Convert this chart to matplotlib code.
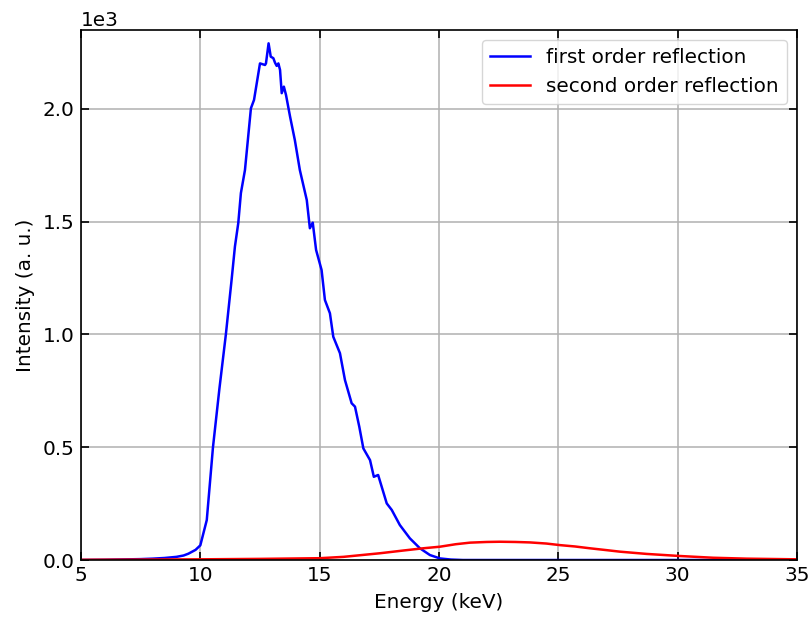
import matplotlib
matplotlib.use("Agg")
import matplotlib.pyplot as plt

# ── Data ─────────────────────────────────────────────────────
first_energy = [5.0, 6.0, 7.0, 7.5, 8.0, 8.5, 9.0, 9.3, 9.5, 9.8, 10.0, 10.27,
                10.53, 10.8, 11.07, 11.31, 11.45, 11.59, 11.70, 11.87, 12.12,
                12.25, 12.50, 12.71, 12.75, 12.86, 12.95, 13.06, 13.13, 13.20,
                13.27, 13.34, 13.41, 13.50, 13.59, 13.76, 13.96, 14.17, 14.46,
                14.59, 14.71, 14.85, 15.08, 15.22, 15.43, 15.57, 15.85, 16.06,
                16.34, 16.48, 16.66, 16.83, 17.11, 17.27, 17.45, 17.81, 18.02,
                18.36, 18.78, 19.20, 19.62, 20.04, 20.5, 21.0, 22.0, 25.0,
                30.0, 35.0]
first_intensity = [0, 1, 3, 4, 6, 9, 14, 20, 28, 45, 65, 177,
                   500, 760, 1000, 1242, 1390, 1494, 1627, 1729, 2003,
                   2040, 2202, 2195, 2202, 2291, 2232, 2225, 2205, 2191,
                   2202, 2173, 2070, 2099, 2062, 1966, 1862, 1729, 1596,
                   1471, 1496, 1375, 1286, 1153, 1094, 990, 917, 798,
                   695, 680, 591, 495, 443, 369, 377, 251, 222,
                   155, 96, 52, 22, 7, 2, 0, 0, 0,
                   0, 0]

second_energy = [5.0, 7.5, 10.0, 12.5, 15.0, 16.0, 17.53, 18.5, 19.34, 20.04,
                 20.7, 21.30, 22.0, 22.55, 23.2, 23.81, 24.5, 25.07, 25.7,
                 26.32, 27.0, 27.58, 28.70, 30.05, 31.49, 32.89, 35.0]
second_intensity = [1, 2, 3, 5, 8, 14, 30, 42, 52, 59,
                    70, 77, 80, 81, 80, 78, 73, 66, 60,
                    52, 44, 37, 27, 18, 10, 6, 3]

# ── Plot ─────────────────────────────────────────────────────
plt.rcParams["font.size"] = 14.4

fig = plt.figure(figsize=(8.09, 6.19), dpi=100)
ax = fig.add_axes([0.1001, 0.0953, 0.8851, 0.8562])

ax.plot(first_energy, first_intensity, color="blue", lw=1.8,
        label="first order reflection")
ax.plot(second_energy, second_intensity, color="red", lw=1.8,
        label="second order reflection")

ax.set_xlim(5, 35)
ax.set_ylim(0, 2350)
ax.set_xlabel("Energy (keV)", labelpad=5.5)
ax.set_ylabel("Intensity (a. u.)", labelpad=5.5)
ax.ticklabel_format(style="sci", axis="y", scilimits=(3, 3))
ax.tick_params(direction="in", top=True, right=True, length=6, width=1.2,
               pad=4.5)
for s in ax.spines.values():
    s.set_linewidth(1.2)
ax.grid(True, color="#b0b0b0", lw=1.1)
ax.legend(loc="upper right")

fig.savefig("out.png", dpi=100)
